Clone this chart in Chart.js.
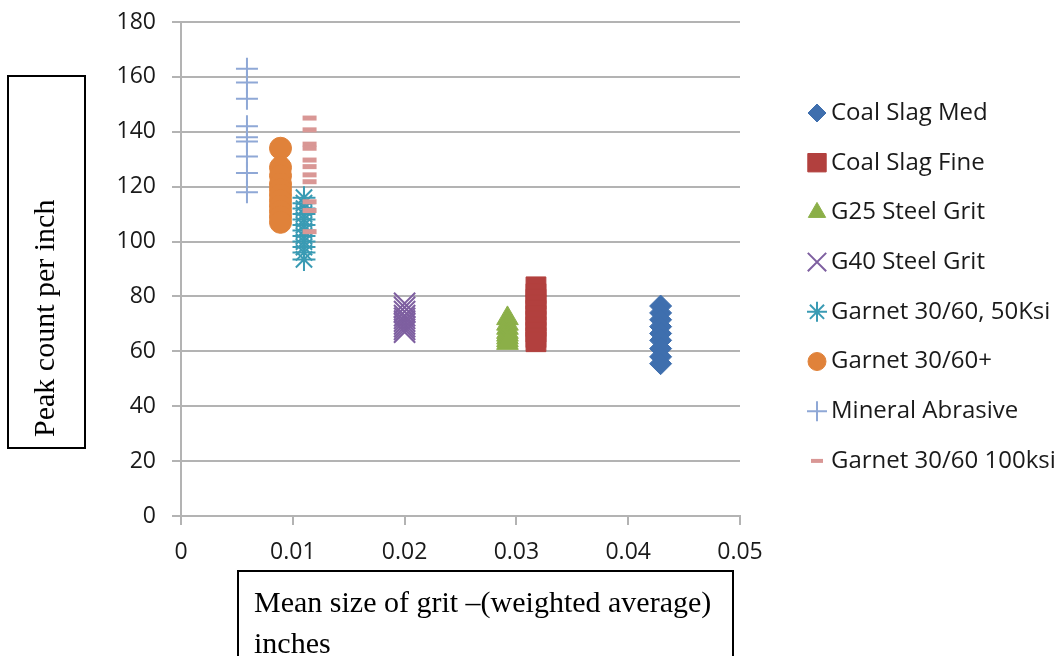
<!DOCTYPE html>
<html>
<head>
<meta charset="utf-8">
<script src="https://cdn.jsdelivr.net/npm/chart.js@4.4.0/dist/chart.umd.min.js"></script>
<style>
  body { margin: 0; background: #fff; }
  #wrap { width: 1063px; height: 656px; position: relative; }
</style>
</head>
<body>
<div id="wrap"><canvas id="grafica"></canvas></div>
<script>
// series names and their grit size (x)
const seriesNames = [
  'Coal Slag Med',
  'Coal Slag Fine',
  'G25 Steel Grit',
  'G40 Steel Grit',
  'Garnet 30/60, 50Ksi',
  'Garnet 30/60+',
  'Mineral Abrasive',
  'Garnet 30/60 100ksi'
];
const gritSize = [0.0429, 0.03175, 0.0292, 0.02, 0.011, 0.0089, 0.0059, 0.0115];

// peak counts per inch, one array per series
const coalSlagMed = [76.5, 74, 71.5, 69, 66.5, 64, 61, 58, 55.5];
const coalSlagFine = [83.5, 81, 79, 77, 75, 73, 71, 69, 67, 65, 63.5];
const g25SteelGrit = [72, 70, 68.5, 67, 66, 65, 64, 63];
const g40SteelGrit = [77.5, 76, 74.5, 73, 72, 71, 70, 69, 68, 67];
const garnet50ksi = [116, 114, 112, 110, 108, 106, 104, 102, 100, 98, 96, 93.5];
const garnetPlus = [134, 127, 124, 121, 119, 117, 115, 113, 111, 109, 107];
const mineralAbrasive = [163, 158, 152, 142, 138, 136.5, 131, 125, 118];
const garnet100ksi = [145, 140.7, 135.5, 134, 129.7, 127.3, 124.3, 121.8, 114.5, 111.3, 103.6];

const peakCounts = [coalSlagMed, coalSlagFine, g25SteelGrit, g40SteelGrit,
  garnet50ksi, garnetPlus, mineralAbrasive, garnet100ksi];

const xTicks = [0, 0.01, 0.02, 0.03, 0.04, 0.05];
const yTicks = [0, 20, 40, 60, 80, 100, 120, 140, 160, 180];

const colors = ['#3f6fae', '#b2403e', '#8baf48', '#7e5fa0', '#3a9bb4', '#e0823a', '#8fa8d6', '#d99795'];
const styles = ['rectRot', 'rect', 'triangle', 'crossRot', 'star', 'circle', 'cross', 'line'];
const radii = [11, 14, 12.5, 15, 11.5, 11, 11, 7];
const widths = [1, 1, 1, 2, 2, 1, 2, 5];
const legendRadii = [9, 13, 10, 13, 10, 9, 10, 6];

const datasets = seriesNames.map((name, i) => ({
  label: name,
  data: peakCounts[i].map(v => ({ x: gritSize[i], y: v })),
  pointStyle: styles[i],
  pointRadius: radii[i],
  pointHoverRadius: radii[i],
  pointBorderWidth: widths[i],
  backgroundColor: colors[i],
  borderColor: colors[i],
  showLine: false,
  order: seriesNames.length - i
}));

const GRID = '#b3b3b3';

// legend + boxed axis titles
const decor = {
  id: 'decor',
  afterDraw(chart) {
    const ctx = chart.ctx;
    ctx.save();
    seriesNames.forEach((name, i) => {
      const y = 113 + i * 49.7;
      ctx.fillStyle = colors[i];
      ctx.strokeStyle = colors[i];
      ctx.lineWidth = widths[i] === 5 ? 4 : widths[i];
      Chart.helpers.drawPoint(ctx, {
        pointStyle: styles[i], radius: legendRadii[i], rotation: 0, borderWidth: widths[i]
      }, 817, y);
      ctx.fillStyle = '#1a1a1a';
      ctx.font = '24px "Open Sans"';
      ctx.textBaseline = 'middle';
      ctx.textAlign = 'left';
      ctx.fillText(name, 831, y);
    });

    ctx.strokeStyle = '#000';
    ctx.lineWidth = 2;
    ctx.strokeRect(8, 76, 77, 372);
    ctx.strokeRect(238, 571, 495, 95);

    ctx.fillStyle = '#000';
    ctx.font = '30px "Liberation Serif"';
    ctx.textBaseline = 'middle';
    ctx.textAlign = 'left';
    ctx.fillText('Mean size of grit \u2013(weighted average)', 254, 604);
    ctx.fillText('inches', 254, 645);

    ctx.translate(46, 437);
    ctx.rotate(-Math.PI / 2);
    ctx.fillText('Peak count per inch', 0, 0);
    ctx.restore();
  }
};

new Chart(document.getElementById('grafica'), {
  type: 'scatter',
  data: { datasets: datasets },
  plugins: [decor],
  options: {
    responsive: true,
    maintainAspectRatio: false,
    animation: false,
    layout: { padding: { top: 22, right: 323, bottom: 0, left: 0 } },
    plugins: {
      legend: { display: false },
      tooltip: { enabled: false }
    },
    scales: {
      x: {
        type: 'linear',
        min: 0,
        max: 0.05,
        afterFit: s => { s.height = 140; s.paddingLeft = 0; s.paddingRight = 0; },
        afterBuildTicks: s => { s.ticks = xTicks.map(v => ({ value: v })); },
        ticks: {
          padding: 14,
          color: '#1a1a1a',
          font: { family: 'Open Sans', size: 23 },
          callback: v => String(+v.toFixed(2))
        },
        grid: { drawOnChartArea: false, tickLength: 9, color: GRID, lineWidth: 2 },
        border: { color: GRID, width: 2 }
      },
      y: {
        min: 0,
        max: 180,
        afterFit: s => { s.width = 181; s.paddingTop = 0; s.paddingBottom = 0; },
        afterBuildTicks: s => { s.ticks = yTicks.map(v => ({ value: v })); },
        ticks: {
          padding: 16,
          color: '#1a1a1a',
          font: { family: 'Open Sans', size: 23 }
        },
        grid: { tickLength: 9, color: GRID, lineWidth: 2 },
        border: { color: GRID, width: 2 }
      }
    }
  }
});
</script>
</body>
</html>
